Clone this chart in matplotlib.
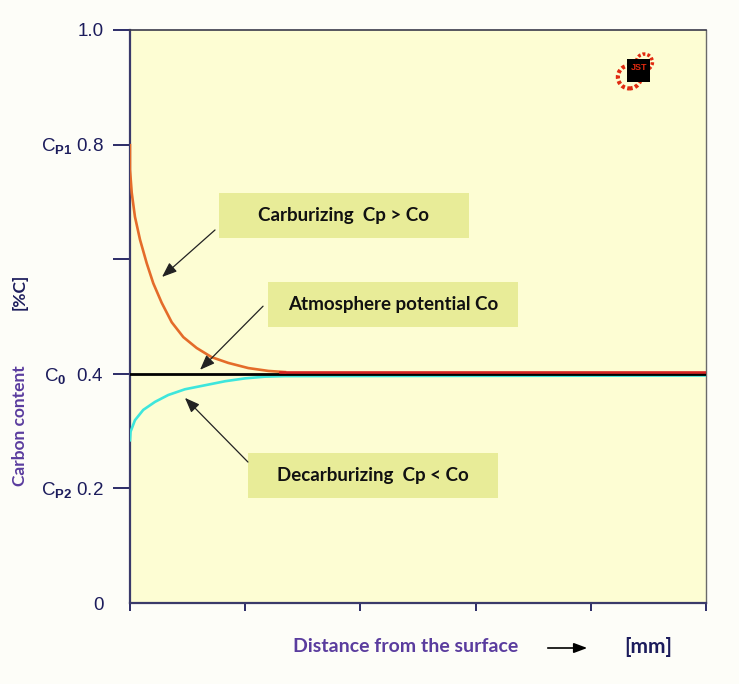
import matplotlib
matplotlib.use('Agg')
import matplotlib.pyplot as plt
from matplotlib.patches import Rectangle, Circle, FancyArrowPatch

# values
carb_x = [0.0, 0.0, 0.015, 0.043, 0.087, 0.145, 0.202, 0.275, 0.362, 0.463,
          0.579, 0.709, 0.853, 1.027, 1.201, 1.345]
carb_y = [0.799, 0.756, 0.716, 0.674, 0.634, 0.593, 0.558, 0.524, 0.490, 0.464,
          0.445, 0.429, 0.419, 0.410, 0.405, 0.403]
tail_x = [1.30, 5.0]
tail_y = [0.403, 0.403]
decarb_x = [0.0, 0.005, 0.043, 0.115, 0.217, 0.332, 0.477, 0.651, 0.825, 0.998,
            1.172, 1.345, 5.0]
decarb_y = [0.284, 0.299, 0.319, 0.337, 0.351, 0.363, 0.373, 0.380, 0.387, 0.392,
            0.395, 0.396, 0.397]
atm_x = [0.0, 5.0]
atm_y = [0.4, 0.4]

y_ticks = [0, 0.2, 0.4, 0.6, 0.8, 1.0]
y_labels = ["0", r"C$_{\mathbf{P2}}$ 0.2", r"C$_\mathbf{0}$  0.4", "", r"C$_{\mathbf{P1}}$ 0.8", "1.0"]
x_ticks = [0, 1, 2, 3, 4, 5]

box_texts = ["Carburizing  Cp > Co", "Atmosphere potential Co", "Decarburizing  Cp < Co"]

plt.rcParams['font.family'] = ['Liberation Sans', 'DejaVu Sans']
plt.rcParams['mathtext.fontset'] = 'custom'
plt.rcParams['mathtext.rm'] = 'Liberation Sans'
plt.rcParams['mathtext.bf'] = 'Liberation Sans:bold'

navy = "#1c1c5c"
purple = "#5a3c9e"
lato = ['Lato', 'DejaVu Sans']

fig = plt.figure(figsize=(7.39, 6.84), dpi=100)
fig.patch.set_facecolor("#fdfdf8")
ax = fig.add_axes([130/739, 1-603/684, 576/739, 573/684])
ax.set_facecolor("#fdfdd3")

ax.plot(decarb_x, decarb_y, color="#3ee6dc", lw=1.9, zorder=3, solid_joinstyle='round')
ax.plot(atm_x, atm_y, color="black", lw=2.0, zorder=4)
ax.plot(carb_x, carb_y, color="#e46c2a", lw=1.9, zorder=5, solid_joinstyle='round')
ax.plot(tail_x, tail_y, color="#d42222", lw=1.9, zorder=5)

ax.set_xlim(0, 5)
ax.set_ylim(0, 1.0)
ax.set_xticks(x_ticks)
ax.set_xticklabels([])
ax.set_yticks(y_ticks)
ax.set_yticklabels(y_labels, fontsize=13.5, color=navy)
ax.tick_params(axis='y', length=12, width=1.3, color=navy, pad=7)
ax.tick_params(axis='x', length=6, width=1.3, color=navy)
ax.yaxis.get_major_ticks()[0].tick1line.set_visible(False)
for s in ['left', 'bottom']:
    ax.spines[s].set_color("#3a3a6a")
    ax.spines[s].set_linewidth(1.6)
ax.spines['top'].set_color("#3a3a4a")
ax.spines['top'].set_linewidth(1.2)
ax.spines['right'].set_color("#6a6a6a")
ax.spines['right'].set_linewidth(1.0)

# labelled boxes (axes fraction)
box_pos = [(0.1545, 0.637), (0.2396, 0.4817), (0.2049, 0.1832)]
bw, bh = 0.434, 0.0785
for (bx, by), t in zip(box_pos, box_texts):
    ax.add_patch(Rectangle((bx, by), bw, bh, transform=ax.transAxes,
                           facecolor="#e8ec98", edgecolor="none", zorder=6))
    ax.text(bx + bw/2, by + bh/2, t, transform=ax.transAxes, ha='center', va='center',
            fontsize=13.5, fontweight='bold', family=lato, color="#111111", zorder=7)

# arrows pointing at the curves
arrows = [((0.738, 0.651), (0.278, 0.569)),
          ((1.155, 0.518), (0.608, 0.407)),
          ((1.024, 0.246), (0.477, 0.358))]
for tail, head in arrows:
    ax.annotate("", xy=head, xytext=tail, zorder=8,
                arrowprops=dict(arrowstyle="-|>,head_length=0.9,head_width=0.35",
                                color="#222222", lw=0.9, shrinkA=0, shrinkB=0))

# small logo top right
lx, ly = 0.875, 0.93
ax.add_patch(Circle((lx + 0.018, ly + 0.014), 0.014, transform=ax.transAxes,
                    facecolor="none", edgecolor="#e02a10", lw=2.5, ls=(0, (0.8, 0.6)), zorder=6))
ax.add_patch(Circle((lx - 0.008, ly - 0.012), 0.02, transform=ax.transAxes,
                    facecolor="none", edgecolor="#e02a10", lw=3, ls=(0, (0.8, 0.6)), zorder=6))
ax.add_patch(Rectangle((lx - 0.012, ly - 0.02), 0.04, 0.04, transform=ax.transAxes,
                       facecolor="black", edgecolor="none", zorder=7))
ax.text(lx + 0.008, ly + 0.004, "JST", transform=ax.transAxes, ha='center', va='center',
        fontsize=6.5, fontweight='bold', color="#e02a10", zorder=8)

# axis titles
fig.text(20/739, 1-426/684, "Carbon content", rotation=90, ha='center', va='center',
         fontsize=12.5, fontweight='bold', color=purple, family=lato)
fig.text(20/739, 1-292/684, "[%C]", rotation=90, ha='center', va='center',
         fontsize=12.5, fontweight='bold', color=navy, family=lato)
fig.text(406/739, 1-647/684, "Distance from the surface", ha='center', va='center',
         fontsize=14, fontweight='bold', color=purple, family=lato)
fig.text(648/739, 1-647/684, "[mm]", ha='center', va='center',
         fontsize=15, fontweight='bold', color=navy, family=lato)
fig.add_artist(FancyArrowPatch((545/739, 1-648/684), (590/739, 1-648/684),
               transform=fig.transFigure, arrowstyle="-|>,head_length=0.8,head_width=0.3",
               color="black", lw=1.2, mutation_scale=10))

fig.savefig("out.png", dpi=100, facecolor=fig.get_facecolor())
